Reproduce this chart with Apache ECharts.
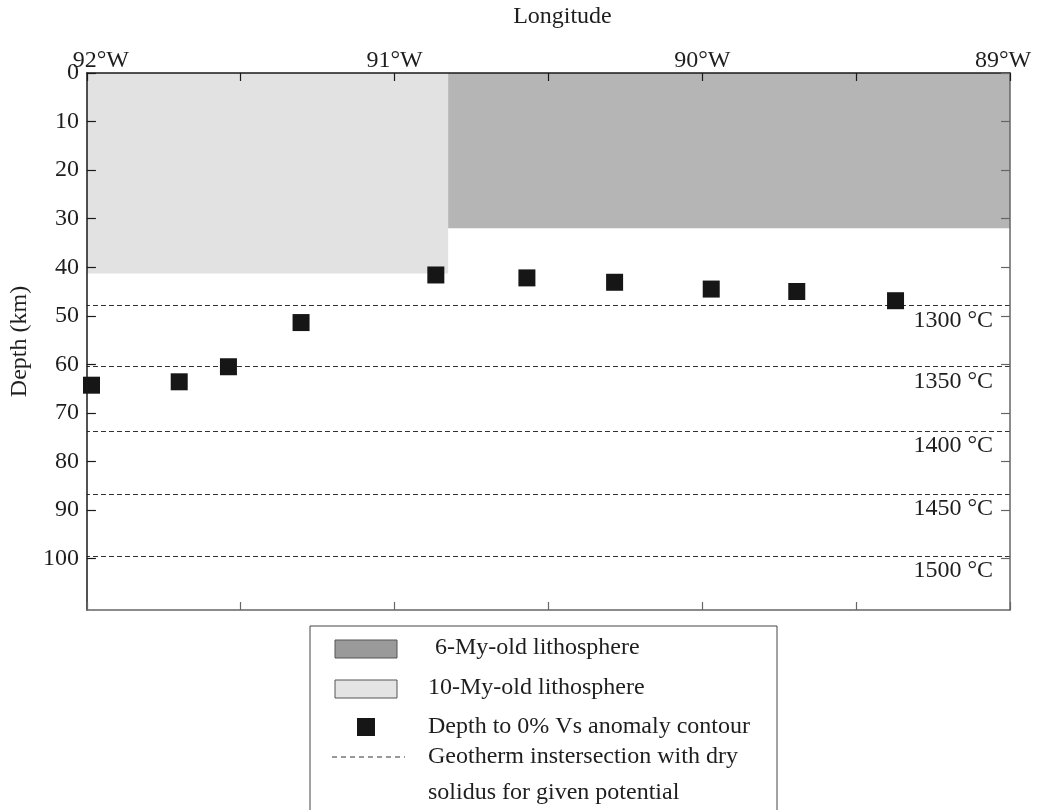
<!DOCTYPE html>
<html>
<head>
<meta charset="utf-8">
<script src="https://cdn.jsdelivr.net/npm/echarts@6/dist/echarts.min.js"></script>
<style>
  html, body { margin: 0; padding: 0; background: #fff; }
  #chart { width: 1037px; height: 810px; }
</style>
</head>
<body>
<div id="chart"></div>
<script>
// 经度用“西经度数”表示，轴反向：左 92°W，右 89°W
const lonTicks = [92, 91, 90, 89];
const depthTicks = [0, 10, 20, 30, 40, 50, 60, 70, 80, 90, 100];

// 0% Vs 异常等值线深度（方块）
const vsLon = [91.985, 91.700, 91.540, 91.304, 90.866, 90.570, 90.285, 89.971, 89.693, 89.372];
const vsDepth = [64.3, 63.6, 60.5, 51.4, 41.6, 42.2, 43.1, 44.5, 45.0, 46.9];

// 岩石圈范围：[西边界, 东边界, 底深度]
const litho10 = [92, 90.826, 41.3];
const litho6 = [90.826, 89, 32.0];

// 地温线与干固相线交点
const geoDepth = [47.9, 60.4, 73.7, 86.7, 99.5];
const geoLabels = ['1300 °C', '1350 °C', '1400 °C', '1450 °C', '1500 °C'];

const FONT = 'Liberation Serif';
const TXT = '#1e1e1e';

const chart = echarts.init(document.getElementById('chart'));

const axisX = (pos, showLabel, lineColor) => ({
  type: 'value', position: pos, min: 89, max: 92, inverse: true, interval: 0.5, z: 10,
  axisLine: { show: true, onZero: false, lineStyle: { color: lineColor, width: 1.5 } },
  axisTick: { show: true, inside: true, length: 8, lineStyle: { color: lineColor, width: 1.2 } },
  splitLine: { show: false },
  axisLabel: {
    show: showLabel, customValues: lonTicks, margin: 0, color: TXT, fontFamily: FONT, fontSize: 24,
    formatter: (v) => v === 92 ? '{a|92°W}' : v === 89 ? '{b|89°W}' : v + '°W',
    rich: {
      a: { fontFamily: FONT, fontSize: 24, color: TXT, padding: [0, 0, 0, 28] },
      b: { fontFamily: FONT, fontSize: 24, color: TXT, padding: [0, 14, 0, 0] }
    }
  }
});

const axisY = (pos, showLabel, lineColor) => ({
  type: 'value', position: pos, min: 0, max: 110.6, inverse: true, interval: 10, z: 10,
  axisLine: { show: true, onZero: false, lineStyle: { color: lineColor, width: 1.5 } },
  axisTick: { show: true, inside: true, length: 9, customValues: depthTicks, lineStyle: { color: lineColor, width: 1.2 } },
  splitLine: { show: false },
  axisLabel: { show: showLabel, customValues: depthTicks, margin: 8, color: TXT, fontFamily: FONT, fontSize: 24 }
});

const xTop = axisX('top', true, '#1a1a1a');
xTop.name = 'Longitude';
xTop.nameLocation = 'middle';
xTop.nameGap = 44;
xTop.nameTextStyle = { fontFamily: FONT, fontSize: 24, color: TXT, padding: [0, 0, 0, 28] };

const yLeft = axisY('left', true, '#1a1a1a');
yLeft.name = 'Depth (km)';
yLeft.nameLocation = 'middle';
yLeft.nameGap = 50;
yLeft.nameTextStyle = { fontFamily: FONT, fontSize: 24, color: TXT };

chart.setOption({
  animation: false,
  backgroundColor: '#fff',
  grid: { left: 86, right: 27, top: 72, bottom: 200 },
  xAxis: [xTop, axisX('bottom', false, '#666')],
  yAxis: [yLeft, axisY('right', false, '#666')],
  series: [
    {
      name: 'lithosphere', type: 'scatter', data: [], silent: true, z: 0,
      markArea: {
        silent: true,
        data: [
          [{ xAxis: litho10[0], yAxis: 0, itemStyle: { color: '#e2e2e2' } }, { xAxis: litho10[1], yAxis: litho10[2] }],
          [{ xAxis: litho6[0], yAxis: 0, itemStyle: { color: '#b5b5b5' } }, { xAxis: litho6[1], yAxis: litho6[2] }]
        ]
      }
    },
    {
      name: 'geotherm', type: 'line', data: [], silent: true,
      markLine: {
        silent: true, symbol: ['none', 'none'],
        lineStyle: { color: '#333', width: 1, type: [5, 3] },
        label: { position: 'insideStartBottom', distance: [17, 3], fontFamily: FONT, fontSize: 24, color: TXT },
        data: geoDepth.map((d, i) => ({ yAxis: d, label: { formatter: geoLabels[i] } }))
      }
    },
    {
      name: 'Depth to 0% Vs anomaly contour', type: 'scatter', silent: true,
      symbol: 'rect', symbolSize: 17, z: 5,
      itemStyle: { color: '#161616', opacity: 1 },
      data: vsLon.map((x, i) => [x, vsDepth[i]])
    }
  ],
  graphic: [
    { type: 'rect', shape: { x: 310, y: 626, width: 467, height: 200 }, style: { fill: '#fff', stroke: '#444', lineWidth: 1 } },
    { type: 'rect', shape: { x: 335, y: 640, width: 62, height: 18 }, style: { fill: '#9a9a9a', stroke: '#555', lineWidth: 1 } },
    { type: 'rect', shape: { x: 335, y: 680, width: 62, height: 18 }, style: { fill: '#e4e4e4', stroke: '#555', lineWidth: 1 } },
    { type: 'rect', shape: { x: 357, y: 718, width: 18, height: 18 }, style: { fill: '#161616' } },
    { type: 'line', shape: { x1: 332, y1: 757, x2: 405, y2: 757 }, style: { stroke: '#333', lineWidth: 1, lineDash: [5, 4] } },
    { type: 'text', x: 435, y: 648, style: { text: '6-My-old lithosphere', font: '24px ' + FONT, fill: TXT, verticalAlign: 'middle' } },
    { type: 'text', x: 428, y: 688, style: { text: '10-My-old lithosphere', font: '24px ' + FONT, fill: TXT, verticalAlign: 'middle' } },
    { type: 'text', x: 428, y: 727, style: { text: 'Depth to 0% Vs anomaly contour', font: '24px ' + FONT, fill: TXT, verticalAlign: 'middle' } },
    { type: 'text', x: 428, y: 757, style: { text: 'Geotherm instersection with dry', font: '24px ' + FONT, fill: TXT, verticalAlign: 'middle' } },
    { type: 'text', x: 428, y: 793, style: { text: 'solidus for given potential', font: '24px ' + FONT, fill: TXT, verticalAlign: 'middle' } }
  ]
});
</script>
</body>
</html>
